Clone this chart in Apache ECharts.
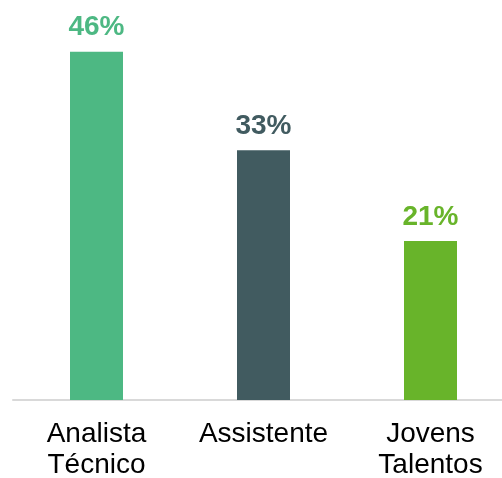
<!DOCTYPE html>
<html><head><meta charset="utf-8">
<script src="https://cdn.jsdelivr.net/npm/echarts@6/dist/echarts.min.js"></script>
<style>html,body{margin:0;padding:0;background:#fff}#c{width:502px;height:478px}</style>
</head><body><div id="c"></div>
<script>
const categories = ['Analista\nTécnico', 'Assistente', 'Jovens\nTalentos'];
const values = [46, 33, 21];
const colors = ['#4db883', '#415b60', '#68b42a'];

const chart = echarts.init(document.getElementById('c'));
chart.setOption({
  animation: false,
  grid: { left: 13, top: 21.5, bottom: 78, right: -12, outerBoundsMode: 'none', containLabel: false },
  xAxis: {
    type: 'category', data: categories,
    axisLine: { lineStyle: { color: '#d9d9d9', width: 2 } },
    axisTick: { show: false },
    axisLabel: { interval: 0, hideOverlap: false, color: '#000', fontFamily: 'Liberation Sans, Arial, sans-serif', fontSize: 28, lineHeight: 31, margin: 19 }
  },
  yAxis: { type: 'value', min: 0, max: 50, show: false, splitLine: { show: false } },
  series: [{
    type: 'bar', barWidth: 53,
    data: values.map((v, i) => ({ value: v, itemStyle: { color: colors[i] },
      label: { color: colors[i] } })),
    label: { show: true, position: 'top', distance: 10, formatter: '{c}%',
      fontFamily: 'Liberation Sans, Arial, sans-serif', fontWeight: 'bold', fontSize: 28 }
  }]
});
</script></body></html>
